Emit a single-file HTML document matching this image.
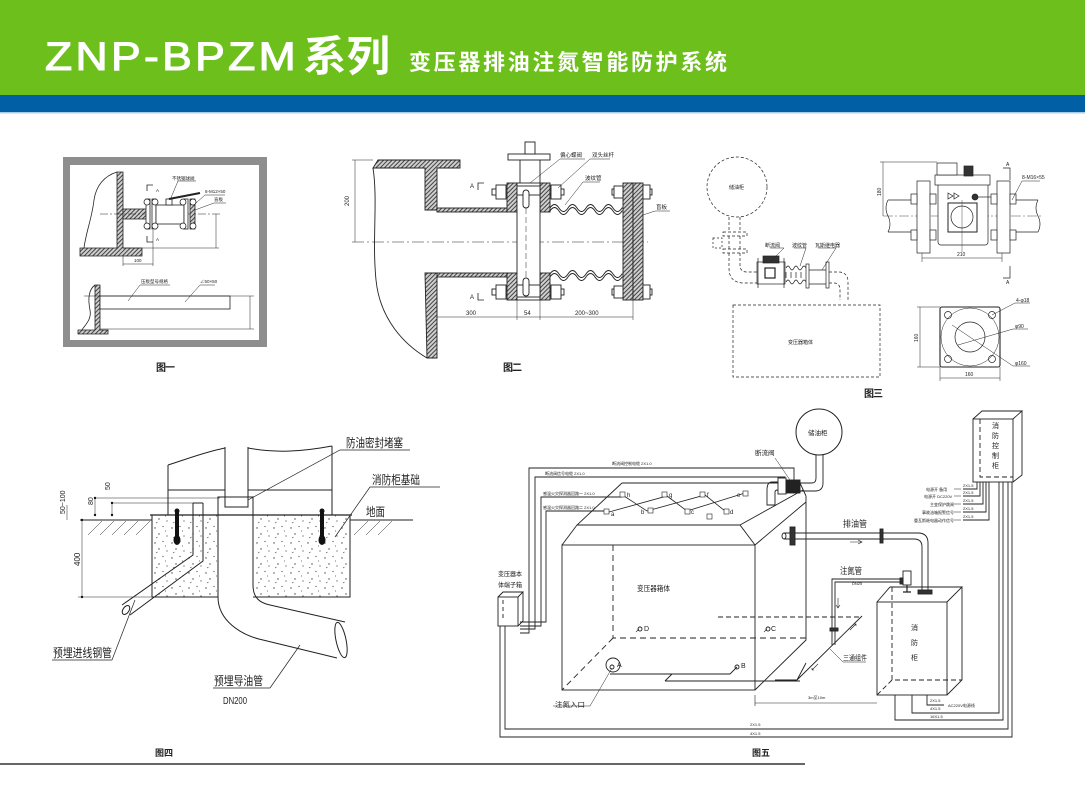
<!DOCTYPE html>
<html><head><meta charset="utf-8">
<style>
html,body{margin:0;padding:0;background:#fff;}
body{width:1085px;height:800px;overflow:hidden;position:relative;}
svg{position:absolute;left:0;top:0;}
text{font-family:"Liberation Sans","Noto Sans CJK SC",sans-serif;}
.cj{font-family:"Liberation Serif","Noto Serif CJK SC",serif;}
</style></head><body>
<svg width="1085" height="800" viewBox="0 0 1085 800" xmlns="http://www.w3.org/2000/svg">
<defs>
 <pattern id="h" width="3" height="3" patternUnits="userSpaceOnUse" patternTransform="rotate(45)"><rect width="3" height="3" fill="#cfcfcf"/><line x1="0.5" y1="0" x2="0.5" y2="3" stroke="#444" stroke-width="1"/></pattern>
 <pattern id="dt" width="17" height="15" patternUnits="userSpaceOnUse">
  <circle cx="2" cy="3" r="0.7" fill="#444"/><circle cx="10" cy="1.5" r="0.6" fill="#444"/><circle cx="6" cy="9" r="0.7" fill="#444"/><circle cx="14" cy="11" r="0.6" fill="#444"/><circle cx="12.5" cy="6" r="0.5" fill="#444"/><path d="M3,13 l1.5,-1" stroke="#444" stroke-width="0.6"/>
 </pattern>
</defs>

<!-- HEADER -->
<rect x="0" y="0" width="1085" height="95" fill="#6dbf1c"/>
<rect x="0" y="95" width="1085" height="17" fill="#0160a5"/>
<rect x="0" y="112" width="1085" height="1.5" fill="#a8cde6"/>
<text x="45" y="70" font-size="40" fill="#fff" stroke="#fff" stroke-width="1.1" textLength="254" lengthAdjust="spacingAndGlyphs" letter-spacing="3">ZNP-BPZM</text>
<text x="303" y="71" font-size="42" fill="#fff" font-weight="bold" textLength="87" lengthAdjust="spacingAndGlyphs">系列</text>
<text x="409" y="70" font-size="22" fill="#fff" font-weight="bold" textLength="318" lengthAdjust="spacing">变压器排油注氮智能防护系统</text>

<!-- FIGURE 1 -->
<rect x="63" y="157" width="204" height="190" fill="#8e8e8e"/>
<rect x="70" y="165" width="189" height="175" fill="#fff"/>
<g stroke="#222" stroke-width="0.8" fill="none">
 <path d="M117,172 C104,176 96,186 94,200 C92,218 86,232 84,248"/>
 <path d="M117,172 H123 V248 H142 V256 H80 V248 H117 Z" fill="url(#h)"/>
 <rect x="123" y="209" width="24" height="10" fill="url(#h)"/>
 <line x1="100" y1="214" x2="220" y2="214" stroke-width="0.5" stroke-dasharray="8,2,2,2"/>
 <rect x="146" y="199" width="4" height="30" fill="#fff"/>
 <rect x="152" y="199" width="4" height="30" fill="#fff"/>
 <rect x="156" y="205" width="28" height="19" fill="#fff"/>
 <rect x="166" y="199" width="6" height="6" fill="#fff"/>
 <line x1="169" y1="199" x2="200" y2="193" stroke-width="2"/>
 <rect x="184" y="199" width="4" height="30" fill="#fff"/>
 <rect x="190" y="199" width="5" height="30" fill="url(#h)"/>
 <circle cx="147" cy="202" r="3" fill="#fff"/><circle cx="155" cy="202" r="3" fill="#fff"/>
 <circle cx="147" cy="226" r="3" fill="#fff"/><circle cx="155" cy="226" r="3" fill="#fff"/>
 <circle cx="183" cy="202" r="3" fill="#fff"/><circle cx="193" cy="202" r="3" fill="#fff"/>
 <circle cx="183" cy="226" r="3" fill="#fff"/><circle cx="193" cy="226" r="3" fill="#fff"/>
 <path d="M153,185 H147 V191 M153,242 H147 V236"/>
 <line x1="216" y1="214" x2="216" y2="248" stroke-width="0.5"/>
 <line x1="123" y1="248" x2="219" y2="248" stroke-width="0.5"/>
 <line x1="123" y1="264" x2="153" y2="264" stroke-width="0.5"/>
 <line x1="123" y1="256" x2="123" y2="266" stroke-width="0.5"/>
 <line x1="153" y1="230" x2="153" y2="266" stroke-width="0.5"/>
 <path d="M170,200 L178,181 H196 M196,203 L205,195 H225 M195,210 L214,203 H226" stroke-width="0.5"/>
 <path d="M95,285 C88,290 88,300 90,310 C92,320 84,326 82,330"/>
 <path d="M95,285 H100 V330 H108 V334 H78 V330 H95 Z" fill="url(#h)"/>
 <rect x="100" y="296" width="130" height="13" fill="#fff"/>
 <line x1="84" y1="296" x2="254" y2="296" stroke-width="0.5"/>
 <line x1="100" y1="329" x2="254" y2="329" stroke-width="0.5"/>
 <line x1="250" y1="296" x2="250" y2="329" stroke-width="0.5"/>
 <path d="M128,301 L140,285 H170 M185,302 L200,285 H215" stroke-width="0.5"/>
</g>
<g font-size="4.5" fill="#222">
 <text x="172" y="180">不锈钢球阀</text>
 <text x="205" y="193">8-M12×50</text>
 <text x="214" y="201">盲板</text>
 <text x="156" y="192">A</text><text x="156" y="241">A</text>
 <text x="134" y="262">100</text>
 <text x="141" y="283">压板型号规格</text>
 <text x="200" y="283">∠50×50</text>
</g>
<text x="156" y="371" font-size="10" font-weight="bold" fill="#222" textLength="19">图一</text>

<!-- FIGURE 2 -->
<g stroke="#222" stroke-width="0.9" fill="none">
 <path d="M373,168 C378,200 372,240 376,280 C380,320 405,345 427,358"/>
 <path d="M378,160 H460 V168 H437 V210 H425 V168 H373 Z" fill="url(#h)"/>
 <rect x="437" y="208" width="70" height="4" fill="url(#h)"/>
 <rect x="437" y="273" width="70" height="4" fill="url(#h)"/>
 <path d="M425,273 H437 V358 H427 Z" fill="url(#h)"/>
 <line x1="352" y1="242" x2="648" y2="242" stroke-width="0.5" stroke-dasharray="12,3,2,3"/>
 <line x1="355" y1="160" x2="355" y2="242" stroke-width="0.5"/>
 <line x1="352" y1="160" x2="373" y2="160" stroke-width="0.5"/>
 <rect x="492" y="189" width="72" height="6" fill="#fff"/>
 <rect x="492" y="289" width="72" height="6" fill="#fff"/>
 <rect x="612" y="189" width="40" height="6" fill="#fff"/>
 <rect x="612" y="289" width="40" height="6" fill="#fff"/>
 <rect x="507" y="183" width="10" height="29" fill="url(#h)"/>
 <rect x="507" y="273" width="10" height="27" fill="url(#h)"/>
 <rect x="540" y="183" width="10" height="29" fill="url(#h)"/>
 <rect x="540" y="273" width="10" height="27" fill="url(#h)"/>
 <rect x="517" y="183" width="23" height="117" fill="#fff"/>
 <path d="M520,158 V183 M540,158 V183"/>
 <rect x="508" y="154" width="42" height="6" fill="#fff"/>
 <rect x="525" y="142" width="10" height="12" fill="#fff"/>
 <rect x="517" y="186" width="23" height="9" fill="#fff"/>
 <rect x="517" y="285" width="23" height="12" fill="#fff"/>
 <rect x="523" y="190" width="6" height="18" rx="3" fill="#fff"/>
 <rect x="523" y="278" width="6" height="18" rx="3" fill="#fff"/>
 <line x1="526" y1="208" x2="526" y2="278" stroke-width="0.5" stroke-dasharray="6,3"/>
 <rect x="496" y="185" width="10" height="14" fill="#fff"/>
 <rect x="551" y="185" width="10" height="14" fill="#fff"/>
 <rect x="496" y="285" width="10" height="14" fill="#fff"/>
 <rect x="551" y="285" width="10" height="14" fill="#fff"/>
 <!-- bellows -->
 <path d="M550,208 q4.5,-7 9,0 q4.5,7 9,0 q4.5,-7 9,0 q4.5,7 9,0 q4.5,-7 9,0 q4.5,7 9,0 q4.5,-7 9,0 q4.5,7 9,0 L623,208"/>
 <path d="M550,211 q4.5,-7 9,0 q4.5,7 9,0 q4.5,-7 9,0 q4.5,7 9,0 q4.5,-7 9,0 q4.5,7 9,0 q4.5,-7 9,0 q4.5,7 9,0 L623,211"/>
 <path d="M550,277 q4.5,-7 9,0 q4.5,7 9,0 q4.5,-7 9,0 q4.5,7 9,0 q4.5,-7 9,0 q4.5,7 9,0 q4.5,-7 9,0 q4.5,7 9,0 L623,277"/>
 <path d="M550,274 q4.5,-7 9,0 q4.5,7 9,0 q4.5,-7 9,0 q4.5,7 9,0 q4.5,-7 9,0 q4.5,7 9,0 q4.5,-7 9,0 q4.5,7 9,0 L623,274"/>
 <rect x="623" y="183" width="10" height="117" fill="url(#h)"/>
 <rect x="633" y="183" width="10" height="117" fill="url(#h)"/>
 <rect x="614" y="186" width="9" height="12" fill="#fff"/>
 <rect x="643" y="185" width="7" height="14" fill="#fff"/>
 <rect x="614" y="286" width="9" height="12" fill="#fff"/>
 <rect x="643" y="285" width="7" height="14" fill="#fff"/>
 <line x1="437" y1="317" x2="633" y2="317" stroke-width="0.5"/>
 <path d="M437,277 V320 M517,300 V320 M540,300 V320 M633,300 V320" stroke-width="0.5"/>
 <path d="M484,183 H478 V190 M484,300 H478 V293" stroke-width="0.8"/>
 <path d="M530,183 L560,159 H585 M558,188 L590,159 H610 M565,205 L583,182 H600 M643,215 L655,211 H670" stroke-width="0.5"/>
</g>
<g font-size="6" fill="#222">
 <text x="349" y="206" transform="rotate(-90 349 206)">200</text>
 <text x="470" y="188">A</text><text x="470" y="299">A</text>
 <text x="466" y="315">300</text>
 <text x="524" y="315">54</text>
 <text x="575" y="315">200~300</text>
 <text x="560" y="157" font-size="5.5">偏心蝶阀</text>
 <text x="592" y="157" font-size="5.5">双头丝杆</text>
 <text x="585" y="180" font-size="5.5">波纹管</text>
 <text x="656" y="209" font-size="5.5">盲板</text>
</g>
<text x="503" y="371" font-size="10" font-weight="bold" fill="#222" textLength="19">图二</text>

<!-- FIGURE 3 -->
<g stroke="#222" stroke-width="0.7" fill="none">
 <circle cx="737" cy="187" r="30" stroke-dasharray="3,2"/>
 <path d="M729,217 V232 M740,217 V232" stroke-dasharray="3,2"/>
 <rect x="723" y="232" width="24" height="4" stroke-dasharray="3,2"/>
 <rect x="723" y="249" width="24" height="4" stroke-dasharray="3,2"/>
 <rect x="713" y="238" width="9" height="10" stroke-dasharray="2,2"/>
 <path d="M729,236 V249 M740,236 V249" stroke-dasharray="3,2"/>
 <path d="M729,253 V268 Q729,283 744,283 L757,283 M740,253 V265 Q740,272 747,272 L757,272" stroke-dasharray="3,2"/>
 <rect x="757" y="262" width="28" height="22" fill="#fff"/>
 <path d="M758,258 V288 M784,258 V288"/>
 <rect x="763" y="256" width="16" height="7" fill="#333"/>
 <rect x="765" y="268" width="10" height="10" fill="#fff" stroke-width="1.2"/>
 <path d="M786,268 q2,-4 4,0 q2,4 4,0 q2,-4 4,0 q2,4 4,0 q2,-4 4,0 M786,282 q2,-4 4,0 q2,4 4,0 q2,-4 4,0 q2,4 4,0 q2,-4 4,0"/>
 <path d="M786,272 V278 M791,272 V278 M796,272 V278 M801,272 V278"/>
 <rect x="806" y="264" width="3" height="24" fill="#fff"/>
 <path d="M809,270 H826 M809,284 H826"/>
 <rect x="826" y="262" width="3" height="26" fill="#fff"/>
 <path d="M829,272 H838 Q848,272 848,282 V300 M829,283 H834 Q840,283 840,290 V300" stroke-dasharray="3,2"/>
 <rect x="733" y="305" width="147" height="72" stroke-dasharray="3,2"/>
 <path d="M770,248 H784 L770,262 M794,248 H806 L800,266 M818,248 H836 L822,270" stroke-width="0.5"/>
 <path d="M888,200 H917 M888,232 H917 M1010,200 H1038 M1010,232 H1038"/>
 <path d="M888,200 q-4,8 0,16 q4,8 0,16 M1038,200 q-4,8 0,16 q4,8 0,16"/>
 <line x1="883" y1="216" x2="1042" y2="216" stroke-width="0.4" stroke-dasharray="10,2,2,2"/>
 <rect x="917" y="181" width="13" height="72" fill="#fff"/>
 <rect x="997" y="181" width="13" height="72" fill="#fff"/>
 <rect x="911" y="194" width="6" height="10" fill="#fff"/><rect x="911" y="230" width="6" height="10" fill="#fff"/>
 <rect x="930" y="194" width="6" height="10" fill="#fff"/><rect x="930" y="230" width="6" height="10" fill="#fff"/>
 <rect x="991" y="194" width="6" height="10" fill="#fff"/><rect x="991" y="230" width="6" height="10" fill="#fff"/>
 <rect x="1010" y="194" width="6" height="10" fill="#fff"/><rect x="1010" y="230" width="6" height="10" fill="#fff"/>
 <rect x="938" y="182" width="50" height="63" rx="3" fill="#fff"/>
 <rect x="935" y="175" width="55" height="10" fill="#fff"/>
 <rect x="937" y="163" width="20" height="12" fill="#fff"/>
 <rect x="964" y="166" width="9" height="10" fill="#333"/>
 <path d="M948,193 l5,3 l-5,3 z M954,193 l5,3 l-5,3 z"/>
 <circle cx="975" cy="197" r="3" fill="#333"/>
 <path d="M978,197 H991"/>
 <rect x="948" y="203" width="29" height="29" fill="#fff" stroke-width="1"/>
 <circle cx="962" cy="217" r="11"/>
 <line x1="962" y1="200" x2="962" y2="252" stroke-width="0.4"/>
 <line x1="922" y1="258" x2="1002" y2="258" stroke-width="0.5"/>
 <path d="M922,253 V262 M1002,253 V262" stroke-width="0.5"/>
 <line x1="883" y1="162" x2="883" y2="216" stroke-width="0.5"/>
 <line x1="880" y1="162" x2="937" y2="162" stroke-width="0.5"/>
 <path d="M1003,168 H1010 V180 M1003,278 H1010 V266"/>
 <path d="M1012,200 L1022,181 H1040" stroke-width="0.5"/>
 <rect x="940" y="307" width="60" height="60" rx="2" stroke-width="1.1" fill="#fff"/>
 <circle cx="970" cy="337" r="29" stroke-width="0.5"/>
 <circle cx="970" cy="337" r="15"/>
 <circle cx="948" cy="315" r="3.5"/><circle cx="992" cy="315" r="3.5"/>
 <circle cx="948" cy="359" r="3.5"/><circle cx="992" cy="359" r="3.5"/>
 <path d="M992,315 L1015,303 H1030 M958,345 L1013,329 H1028 M952,325 L1013,366 H1030" stroke-width="0.5"/>
 <line x1="920" y1="307" x2="920" y2="367" stroke-width="0.5"/>
 <path d="M917,307 H940 M917,367 H940" stroke-width="0.5"/>
 <line x1="940" y1="378" x2="1000" y2="378" stroke-width="0.5"/>
 <path d="M940,367 V381 M1000,367 V381" stroke-width="0.5"/>
</g>
<g font-size="5" fill="#222">
 <text x="729" y="189">储油柜</text>
 <text x="788" y="344">变压器箱体</text>
 <text x="765" y="247">断流阀</text>
 <text x="792" y="247">波纹管</text>
 <text x="815" y="247">瓦斯继电器</text>
 <text x="957" y="256">210</text>
 <text x="881" y="196" transform="rotate(-90 881 196)">180</text>
 <text x="1006" y="166">A</text><text x="1006" y="284">A</text>
 <text x="1022" y="179">8-M16×55</text>
 <text x="1016" y="302">4-φ18</text>
 <text x="1015" y="328">φ90</text>
 <text x="1015" y="365">φ160</text>
 <text x="918" y="342" transform="rotate(-90 918 342)">160</text>
 <text x="965" y="376">160</text>
</g>
<text x="864" y="397" font-size="10" font-weight="bold" fill="#222" textLength="19">图三</text>

<!-- FIGURE 4 -->
<rect x="152" y="515" width="66" height="82" fill="url(#dt)"/>
<rect x="253" y="515" width="97" height="82" fill="url(#dt)"/>
<g stroke="#222" stroke-width="1" fill="none">
 <path d="M168,465 C190,458 205,452 225,448 M248,448 C275,453 300,452 332,446"/>
 <path d="M168,465 V515 M332,446 V515 M168,490 H225 M248,490 H332 M225,447 V497 M248,447 V497"/>
 <rect x="225" y="497" width="23" height="10" fill="#fff"/>
 <path d="M218,597 V497 H253 V585"/>
 <line x1="150" y1="515" x2="352" y2="515" stroke-width="1.3"/>
 <line x1="80" y1="520" x2="152" y2="520"/>
 <line x1="350" y1="520" x2="413" y2="520"/>
 <path d="M152,515 V597 H218 M253,597 H350 V515"/>
 <path d="M100,535 l14,-14 M112,535 l14,-14 M124,535 l14,-14 M136,535 l14,-14 M88,535 l14,-14 M354,535 l14,-14 M366,535 l14,-14 M378,535 l14,-14" stroke-width="0.5"/>
 <path d="M193,503 V555 L122,605 M203,503 V561 L130,615 M193,503 H203"/>
 <ellipse cx="126" cy="610" rx="3" ry="5" transform="rotate(35 126 610)"/>
 <path d="M218,597 C218,620 240,635 263,640 L337,658 M253,585 C253,598 260,603 270,605 L345,622"/>
 <ellipse cx="341" cy="640" rx="5" ry="18" transform="rotate(-12 341 640)"/>
 <path d="M82,520 V597 M78,597 H152 M67,505 V520 M95,498 V515 M112,503 V515 M95,498 H220 M112,503 H193" stroke-width="0.5"/>
 <path d="M248,500 L340,450 H410 M335,537 L370,487 H440 M112,660 L135,600 M52,660 H112 M270,688 L300,645 M213,688 H270" stroke-width="0.7"/>
</g>
<g fill="#111">
 <rect x="175" y="511" width="4" height="26"/><ellipse cx="177" cy="540" rx="3.5" ry="5"/><circle cx="177" cy="511" r="2.5"/>
 <rect x="320" y="511" width="4" height="26"/><ellipse cx="322" cy="540" rx="3.5" ry="5"/><circle cx="322" cy="511" r="2.5"/>
 <circle cx="82" cy="520" r="1.2"/><circle cx="82" cy="597" r="1.2"/><circle cx="95" cy="498" r="1.2"/><circle cx="112" cy="503" r="1.2"/><circle cx="95" cy="515" r="1.2"/><circle cx="112" cy="515" r="1.2"/>
</g>
<g fill="#222" class="cj">
 <text x="346" y="447" font-size="12" textLength="57" lengthAdjust="spacingAndGlyphs">防油密封堵塞</text>
 <text x="372" y="484" font-size="12" textLength="48" lengthAdjust="spacingAndGlyphs">消防柜基础</text>
 <text x="366" y="516" font-size="12" textLength="19" lengthAdjust="spacingAndGlyphs">地面</text>
 <text x="53" y="657" font-size="12" textLength="59" lengthAdjust="spacingAndGlyphs">预埋进线钢管</text>
 <text x="214" y="685" font-size="12" textLength="49" lengthAdjust="spacingAndGlyphs">预埋导油管</text>
 <text x="223" y="704" font-size="10" textLength="24" lengthAdjust="spacingAndGlyphs">DN200</text>
 <text x="80" y="566" font-size="8" transform="rotate(-90 80 566)">400</text>
 <text x="65" y="514" font-size="7" transform="rotate(-90 65 514)">50~100</text>
 <text x="93" y="505" font-size="7" transform="rotate(-90 93 505)">80</text>
 <text x="110" y="490" font-size="7" transform="rotate(-90 110 490)">50</text>
</g>
<text x="155" y="756" font-size="9" font-weight="bold" fill="#222" textLength="18">图四</text>
<line x1="0" y1="764" x2="805" y2="764" stroke="#333" stroke-width="1.6"/>

<!-- FIGURE 5 -->
<g stroke="#222" stroke-width="0.9" fill="none">
 <path d="M794,483 V468 H529 V633 H520"/>
 <path d="M785,483 V477 H535 V629 H520"/>
 <path d="M622,497 H541 V626 H520"/>
 <path d="M607,511 H546 V622 H520"/>
 <path d="M500,625 V737 H1012 V482"/>
 <path d="M505,625 V729 H1008 V482"/>
 <path d="M895,695 V720 H1003 V482"/>
 <path d="M912,695 V713 H999 V482"/>
 <path d="M927,695 V705 H944"/>
 <path d="M977,482 V489 H963 M980,482 V496 H963 M983,482 V504 H963 M986,482 V512 H963 M989,482 V520 H963"/>
 <path d="M622,483 H787 M800,483 L806,496 M622,483 L577,525 L562,545 M577,525 H740 L755,545 M740,525 L803,490 M755,545 L806,502 M806,496 V640 L755,690"/>
 <rect x="562" y="545" width="193" height="145"/>
 <path d="M613,545 V638 H806 M613,638 L562,690" stroke-dasharray="6,4"/>
 <path d="M609,512 L667,496 L687,511 L745,493 M624,496 L647,511 L705,495 L725,511" stroke-width="0.8"/>
 <path d="M778,482 H772 Q767,482 767,490 V505 H775 V492 Q775,490 778,490"/>
 <rect x="778" y="478" width="8" height="16" fill="#fff"/>
 <rect x="786" y="480" width="14" height="13" fill="#222"/>
 <path d="M800,483 H812 Q816,483 816,478 V455 M800,491 H815 Q823,491 823,483 V455"/>
 <circle cx="819" cy="432" r="23" stroke-width="1"/>
 <path d="M775,458 L790,480" stroke-width="0.5"/>
 <path d="M784,533 H918 Q928,533 928,543 V593 M784,539 H914 Q922,539 922,547 V593"/>
 <ellipse cx="784" cy="536" rx="2" ry="3"/>
 <rect x="790" y="527" width="5" height="18" fill="#333"/>
 <rect x="880" y="529" width="3" height="14" fill="#333"/>
 <path d="M850,542 H862 M858,540 L862,542 L858,544" stroke-width="0.6"/>
 <rect x="918" y="590" width="14" height="4" fill="#333"/>
 <path d="M832,645 V579 H900 M835,645 V582 H900"/>
 <rect x="903" y="571" width="8" height="14" fill="#fff"/>
 <rect x="900" y="578" width="3" height="6" fill="#333"/>
 <path d="M907,585 V592 M903,592 H911" stroke-width="1.2"/>
 <path d="M838,598 V608 M836,605 L838,608 L840,605" stroke-width="0.6"/>
 <rect x="830" y="628" width="8" height="3" fill="#333"/>
 <path d="M718,617 H862" stroke-dasharray="5,3"/>
 <path d="M862,616 L797,680 H775 M806,663 L797,680"/>
 <path d="M850,630 l6,-6 M854,624 l2,0 l0,2 M818,664 l-6,6 M812,670 l0,-2 M812,670 l2,0" stroke-width="0.6"/>
 <path d="M830,649 L843,662 H866" stroke-width="0.5"/>
 <rect x="877" y="602" width="70" height="93" fill="#fff"/>
 <path d="M877,602 L890,587 H962 L947,602 M962,587 V680 L947,695"/>
 <path d="M892,587 V680 H962 M892,680 L877,695" stroke-dasharray="5,3"/>
 <path d="M755,703 H877 M755,695 V706" stroke-width="0.6"/>
 <rect x="973" y="419" width="40" height="63" fill="#fff"/>
 <path d="M973,419 L982,411 H1022 L1013,419 M1022,411 V475 L1013,482"/>
 <path d="M980,419 V477 H1013" stroke-dasharray="5,3"/>
 <path d="M954,489 H961 M954,496 H961 M954,504 H961 M954,512 H961 M954,520 H961" stroke-width="0.6"/>
 <rect x="498" y="597" width="20" height="29" fill="#fff"/>
 <path d="M498,597 L503,592 H523 L518,597 M523,592 V621 L518,626"/>
 <path d="M503,600 V620" stroke-dasharray="4,3"/>
 <path d="M610,674 H730 L737,667 M665,681 L672,674 M665,681 H800"/>
 <circle cx="613" cy="665" r="7"/>
 <circle cx="612" cy="667" r="2"/><circle cx="737" cy="667" r="2"/>
 <circle cx="640" cy="629" r="2"/><circle cx="768" cy="629" r="2"/>
 <path d="M612,668 L590,706 H553" stroke-width="0.5"/>
 <path d="M639,629 l-3,3 M767,629 l-3,3" stroke-width="0.6"/>
</g>
<g fill="#fff" stroke="#222" stroke-width="0.6">
 <rect x="604" y="509" width="5" height="5"/><rect x="620" y="492" width="5" height="5"/>
 <rect x="648" y="508" width="5" height="5"/><rect x="662" y="492" width="5" height="5"/>
 <rect x="685" y="509" width="5" height="5"/><rect x="700" y="492" width="5" height="5"/>
 <rect x="724" y="509" width="5" height="5"/><rect x="743" y="491" width="5" height="5"/>
 <rect x="707" y="514" width="5" height="5"/>
</g>
<g font-size="6" fill="#222" class="cj">
 <text x="611" y="516">a</text><text x="627" y="497">h</text>
 <text x="641" y="514">b</text><text x="669" y="497">g</text>
 <text x="691" y="514">c</text><text x="707" y="497">f</text>
 <text x="730" y="514">d</text><text x="737" y="497">e</text>
 <text x="617" y="667" font-size="7">A</text><text x="741" y="668" font-size="7">B</text>
 <text x="644" y="631" font-size="7">D</text><text x="771" y="631" font-size="7">C</text>
</g>
<g font-size="4" fill="#222">
 <text x="612" y="465">断流阀控制电缆 2X1.0</text>
 <text x="545" y="475">断流阀信号电缆 2X1.0</text>
 <text x="543" y="495">感温火灾探测器回路一 2X1.0</text>
 <text x="543" y="509">感温火灾探测器回路二 2X1.0</text>
 <text x="926" y="491">电源开 备用</text>
 <text x="924" y="498">电源开 DC220V</text>
 <text x="930" y="506">主变保护跳闸</text>
 <text x="922" y="514">事故油箱报警信号</text>
 <text x="914" y="522">重瓦斯继电器动作信号</text>
 <text x="963" y="487">2X1.5</text><text x="963" y="494">2X1.5</text><text x="963" y="502">2X1.5</text><text x="963" y="510">2X1.5</text><text x="963" y="518">2X1.5</text>
 <text x="930" y="702">2X1.5</text><text x="930" y="710">4X1.5</text><text x="930" y="718">16X1.5</text>
 <text x="948" y="707">AC220V电源线</text>
 <text x="750" y="726">2X1.5</text><text x="750" y="735">4X1.5</text>
 <text x="808" y="699">3m至10m</text>
 <text x="852" y="585">DN25</text>
</g>
<g fill="#222" class="cj">
 <text x="808" y="435" font-size="6.5">储油柜</text>
 <text x="755" y="455" font-size="6.5">断流阀</text>
 <text x="843" y="527" font-size="9" textLength="24" lengthAdjust="spacingAndGlyphs">排油管</text>
 <text x="840" y="574" font-size="9" textLength="22" lengthAdjust="spacingAndGlyphs">注氮管</text>
 <text x="843" y="660" font-size="7" textLength="24" lengthAdjust="spacingAndGlyphs">三通组件</text>
 <text x="637" y="591" font-size="7.5" textLength="33" lengthAdjust="spacingAndGlyphs">变压器箱体</text>
 <text x="498" y="576" font-size="6.5" textLength="24" lengthAdjust="spacingAndGlyphs">变压器本</text>
 <text x="498" y="587" font-size="6.5" textLength="24" lengthAdjust="spacingAndGlyphs">体端子箱</text>
 <text x="555" y="707" font-size="7" textLength="30" lengthAdjust="spacingAndGlyphs">注氮入口</text>
 <text x="911" y="630" font-size="7">消</text>
 <text x="911" y="645" font-size="7">防</text>
 <text x="911" y="660" font-size="7">柜</text>
 <text x="992" y="428" font-size="7">消</text>
 <text x="992" y="438" font-size="7">防</text>
 <text x="992" y="448" font-size="7">控</text>
 <text x="992" y="458" font-size="7">制</text>
 <text x="992" y="468" font-size="7">柜</text>
</g>
<text x="752" y="756" font-size="9" font-weight="bold" fill="#222" textLength="18">图五</text>
</svg>
</body></html>
